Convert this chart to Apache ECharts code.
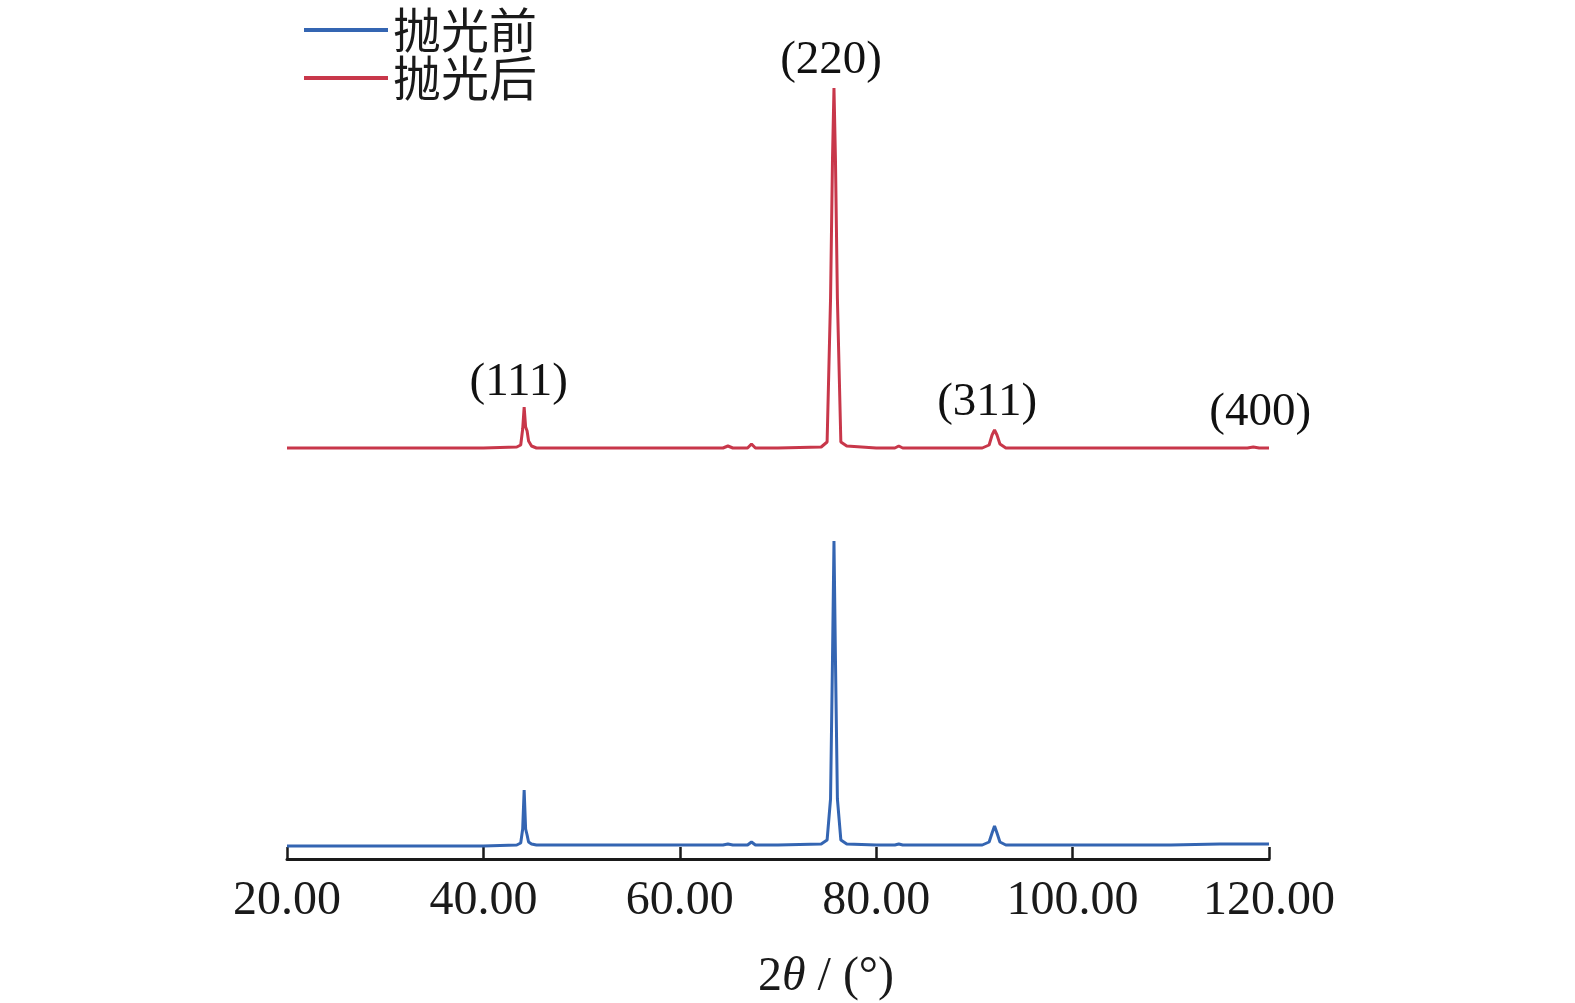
<!DOCTYPE html>
<html>
<head>
<meta charset="utf-8">
<script src="https://cdn.jsdelivr.net/npm/echarts@6/dist/echarts.min.js"></script>
<style>html,body{margin:0;padding:0;background:#fff}#c{width:1575px;height:1003px}</style>
</head>
<body>
<div id="c"></div>
<script>
// 2θ sample positions (degrees)
const twoTheta = [20, 25, 30, 35, 40, 43.4, 43.8, 44.0, 44.15, 44.3, 44.45, 44.6, 44.9, 45.4, 50, 55, 60, 64.4, 64.9, 65.4, 66.9, 67.3, 67.7, 70, 74.4, 75.0, 75.35, 75.55, 75.7, 75.85, 76.05, 76.4, 77.0, 80, 81.9, 82.3, 82.7, 86, 90.8, 91.5, 91.8, 92.05, 92.3, 92.6, 93.2, 96, 100, 105, 110, 115, 117.8, 118.4, 119, 120];
// relative intensity, before polishing (抛光前)
const beforePolish = [13, 13, 13, 13, 13, 14, 16, 30, 69, 30, 24, 17, 15, 14, 14, 14, 14, 14, 15, 14, 14, 17, 14, 14, 15, 19, 60, 200, 318, 200, 60, 19, 15, 14, 14, 15, 14, 14, 14, 17, 26, 33, 26, 17, 14, 14, 14, 14, 14, 15, 15, 15, 15, 15];
// relative intensity, after polishing (抛光后), offset upward
const afterPolish = [411, 411, 411, 411, 411, 412, 414, 430, 452, 432, 428, 418, 413, 411, 411, 411, 411, 411, 413, 411, 411, 415, 411, 411, 412, 417, 560, 700, 771, 700, 560, 417, 413, 411, 411, 413, 411, 411, 411, 414, 424, 429, 424, 415, 411, 411, 411, 411, 411, 411, 411, 412, 411, 411];
// peak index annotations: [2θ, height, text]
const peakLabels = [[43.6, 476, '(111)'], [75.4, 798, '(220)'], [91.3, 456, '(311)'], [119.1, 446, '(400)']];
const xTicks = [20, 40, 60, 80, 100, 120];
const seriesNames = ['抛光前', '抛光后'];

const zip = (xs, ys) => xs.map((x, i) => [x, ys[i]]);
const serif = '"Liberation Serif", "DejaVu Serif", serif';

const chart = echarts.init(document.getElementById('c'), null, {renderer: 'canvas'});
chart.setOption({
  animation: false,
  backgroundColor: '#ffffff',
  grid: {left: 287, right: 306, top: 59, bottom: 144, containLabel: false, outerBoundsMode: 'none'},
  legend: {
    orient: 'vertical', left: 299, top: 1, itemWidth: 84, itemHeight: 4, itemGap: 0,
    icon: 'rect',
    data: seriesNames,
    textStyle: {fontFamily: '"Noto Sans CJK SC", sans-serif', fontSize: 48, color: '#1a1a1a', lineHeight: 47, padding: [0, 0, 0, 0]}
  },
  xAxis: {
    type: 'value', min: xTicks[0], max: xTicks[xTicks.length - 1], interval: 20,
    name: '2{i|θ} / (°)', nameLocation: 'middle', nameGap: 94,
    nameTextStyle: {fontFamily: serif, fontSize: 48, color: '#1a1a1a', padding: [0, 0, 0, 96],
      rich: {i: {fontFamily: serif, fontStyle: 'italic', fontSize: 48, color: '#1a1a1a'}}},
    axisLine: {show: true, onZero: false, lineStyle: {color: '#1a1a1a', width: 3}},
    axisTick: {show: true, inside: true, length: 12, lineStyle: {color: '#1a1a1a', width: 2.5}},
    axisLabel: {fontFamily: serif, fontSize: 48, color: '#1a1a1a', margin: 18, formatter: v => v.toFixed(2)},
    splitLine: {show: false}
  },
  yAxis: {type: 'value', min: 0, max: 800, show: false, splitLine: {show: false}},
  series: [
    {name: seriesNames[0], type: 'line', data: zip(twoTheta, beforePolish), symbol: 'none', smooth: false,
     lineStyle: {color: '#3465b2', width: 3}, itemStyle: {color: '#3465b2'}},
    {name: seriesNames[1], type: 'line', data: zip(twoTheta, afterPolish), symbol: 'none', smooth: false,
     lineStyle: {color: '#c8374a', width: 3}, itemStyle: {color: '#c8374a'}},
    {type: 'scatter', data: peakLabels.map(p => ({value: [p[0], p[1]], name: p[2]})), symbolSize: 0, silent: true,
     clip: false, itemStyle: {opacity: 1},
     label: {show: true, position: 'inside', formatter: p => p.name, fontFamily: serif, fontSize: 47, color: '#111111', opacity: 1}}
  ]
});
</script>
</body>
</html>
